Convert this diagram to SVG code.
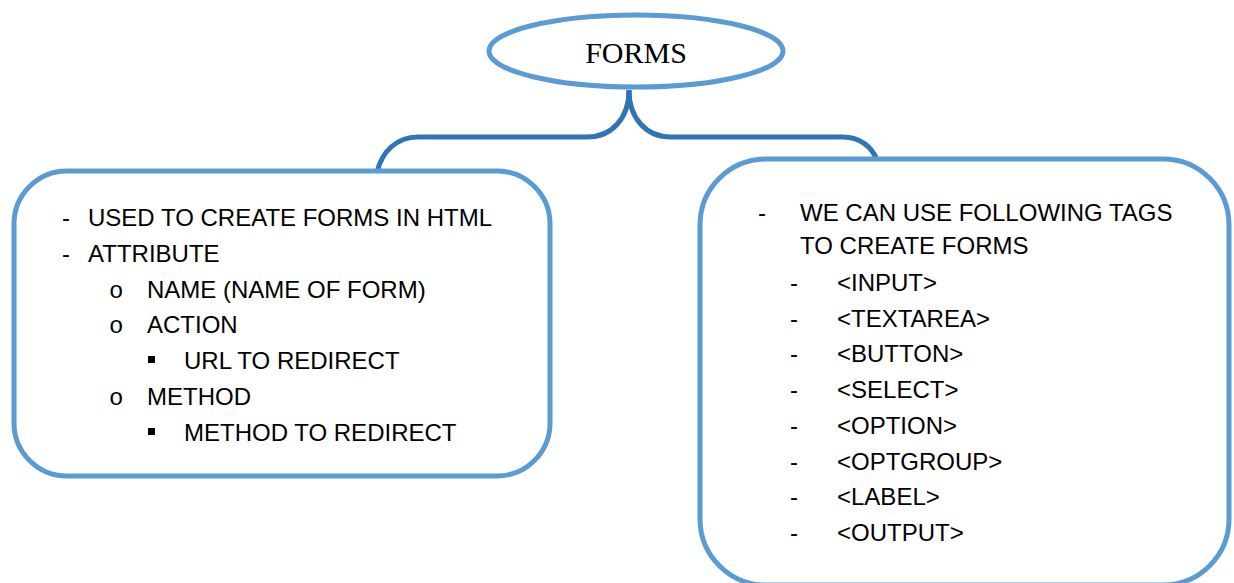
<svg xmlns="http://www.w3.org/2000/svg" width="1234" height="583" viewBox="0 0 1234 583">
<style>
.box{fill:#ffffff;stroke:#5B9BD5;stroke-width:5}
.conn{fill:none;stroke:#2E75B6;stroke-width:5}
.t{font-family:"Liberation Sans",Arial,sans-serif;font-size:24px;fill:#000}
.title{font-family:"Liberation Serif","Times New Roman",serif;font-size:30px;fill:#000}
.circ{font-family:"Liberation Mono","Courier New",monospace;font-size:24px;fill:#000}
.sq{fill:#000}
</style>
<rect width="1234" height="583" fill="#ffffff"/>
<g id="connectors">
<path class="conn" d="M629,90 C629,118 612,137 587,137 L418,137 C396,137 382,152 377,172"/>
<path class="conn" d="M629,90 C629,118 646,137 671,137 L843,137 C860,137 872,147 877,160"/>
</g>
<g id="forms">
<ellipse class="box" cx="636" cy="51" rx="147" ry="36"/>
<text class="title" x="636" y="63" text-anchor="middle">FORMS</text>
</g>
<g id="left">
<rect class="box" x="14" y="171" width="536" height="305" rx="53" ry="53"/>
<text class="t" x="62" y="226">-</text>
<text class="t" x="88" y="226">USED TO CREATE FORMS IN HTML</text>
<text class="t" x="62" y="262">-</text>
<text class="t" x="88" y="262">ATTRIBUTE</text>
<text class="circ" x="109" y="298">o</text>
<text class="t" x="147" y="298">NAME (NAME OF FORM)</text>
<text class="circ" x="109" y="333">o</text>
<text class="t" x="147" y="333">ACTION</text>
<rect class="sq" x="148" y="356" width="7" height="7"/>
<text class="t" x="184" y="369">URL TO REDIRECT</text>
<text class="circ" x="109" y="405">o</text>
<text class="t" x="147" y="405">METHOD</text>
<rect class="sq" x="148" y="428" width="7" height="7"/>
<text class="t" x="184" y="441">METHOD TO REDIRECT</text>
</g>
<g id="right">
<rect class="box" x="700" y="159" width="529" height="426" rx="66" ry="66"/>
<text class="t" x="758" y="221">-</text>
<text class="t" x="800" y="221">WE CAN USE FOLLOWING TAGS</text>
<text class="t" x="800" y="254">TO CREATE FORMS</text>
<text class="t" x="790" y="291">-</text>
<text class="t" x="837" y="291">&lt;INPUT&gt;</text>
<text class="t" x="790" y="327">-</text>
<text class="t" x="837" y="327">&lt;TEXTAREA&gt;</text>
<text class="t" x="790" y="362">-</text>
<text class="t" x="837" y="362">&lt;BUTTON&gt;</text>
<text class="t" x="790" y="398">-</text>
<text class="t" x="837" y="398">&lt;SELECT&gt;</text>
<text class="t" x="790" y="434">-</text>
<text class="t" x="837" y="434">&lt;OPTION&gt;</text>
<text class="t" x="790" y="470">-</text>
<text class="t" x="837" y="470">&lt;OPTGROUP&gt;</text>
<text class="t" x="790" y="505">-</text>
<text class="t" x="837" y="505">&lt;LABEL&gt;</text>
<text class="t" x="790" y="541">-</text>
<text class="t" x="837" y="541">&lt;OUTPUT&gt;</text>
</g>
</svg>
